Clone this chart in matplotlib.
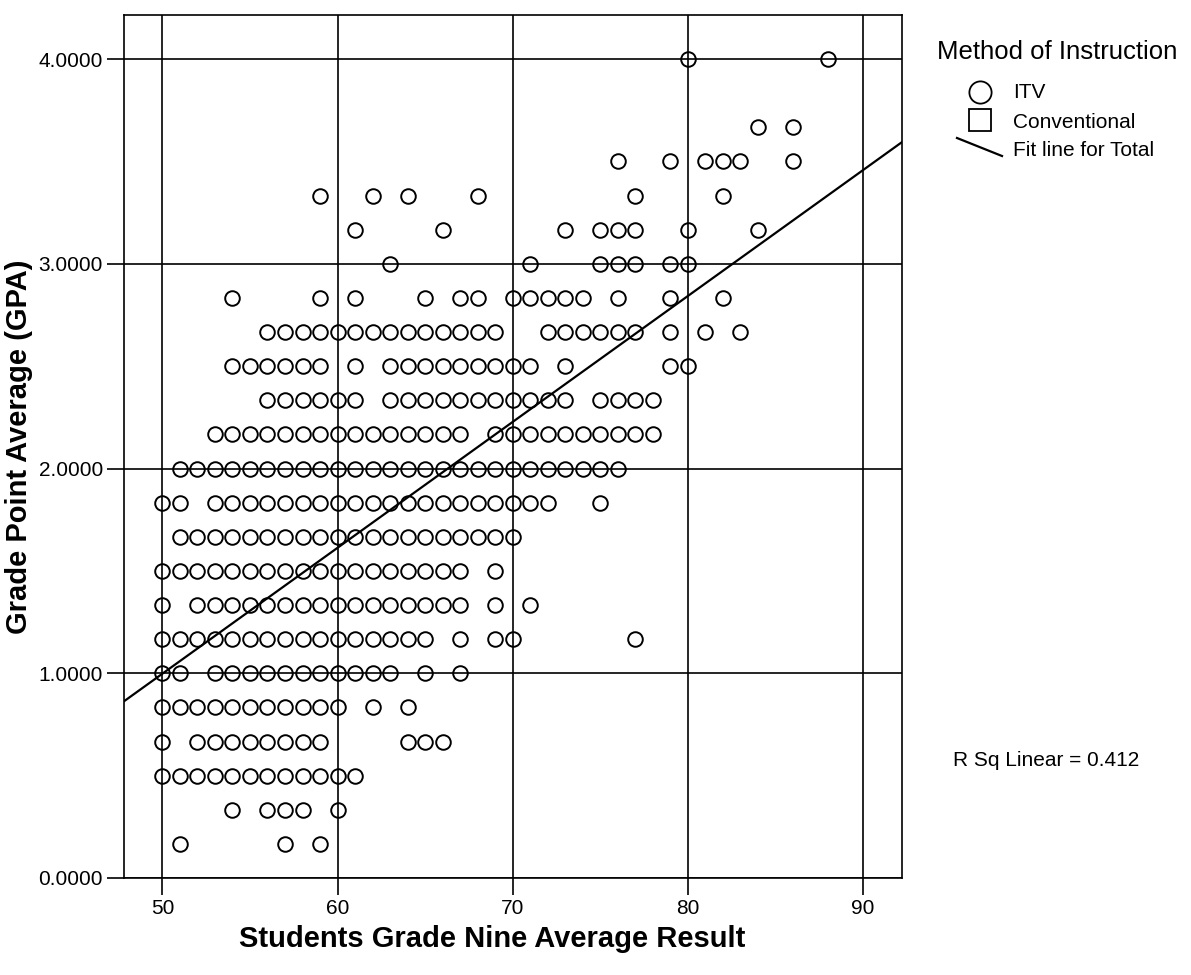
import numpy as np
import matplotlib
matplotlib.use('Agg')
import matplotlib.pyplot as plt
from matplotlib.lines import Line2D

plt.rcParams['font.family'] = ['Liberation Sans', 'DejaVu Sans']

# Grade nine average for each GPA level (one circle per distinct value)
gpa_levels = [4.0, 11 / 3, 3.5, 10 / 3, 19 / 6, 3.0, 17 / 6, 8 / 3, 2.5, 7 / 3,
              13 / 6, 2.0, 11 / 6, 5 / 3, 1.5, 4 / 3, 7 / 6, 1.0, 5 / 6, 2 / 3,
              0.5, 1 / 3, 1 / 6]

grades_400 = [80, 88]
grades_367 = [84, 86]
grades_350 = [76, 79, 81, 82, 83, 86]
grades_333 = [59, 62, 64, 68, 77, 82]
grades_317 = [61, 66, 73, 75, 76, 77, 80, 84]
grades_300 = [63, 71, 75, 76, 77, 79, 80]
grades_283 = [54, 59, 61, 65, 67, 68, 70, 71, 72, 73, 74, 76, 79, 82]
grades_267 = [56, 57, 58, 59, 60, 61, 62, 63, 64, 65, 66, 67, 68, 69,
              72, 73, 74, 75, 76, 77, 79, 81, 83]
grades_250 = [54, 55, 56, 57, 58, 59, 61, 63, 64, 65, 66, 67, 68, 69, 70, 71,
              73, 79, 80]
grades_233 = [56, 57, 58, 59, 60, 61, 63, 64, 65, 66, 67, 68, 69, 70, 71, 72,
              73, 75, 76, 77, 78]
grades_217 = [53, 54, 55, 56, 57, 58, 59, 60, 61, 62, 63, 64, 65, 66, 67,
              69, 70, 71, 72, 73, 74, 75, 76, 77, 78]
grades_200 = [51, 52, 53, 54, 55, 56, 57, 58, 59, 60, 61, 62, 63, 64, 65, 66,
              67, 68, 69, 70, 71, 72, 73, 74, 75, 76]
grades_183 = [50, 51, 53, 54, 55, 56, 57, 58, 59, 60, 61, 62, 63, 64, 65, 66,
              67, 68, 69, 70, 71, 72, 75]
grades_167 = [51, 52, 53, 54, 55, 56, 57, 58, 59, 60, 61, 62, 63, 64, 65, 66,
              67, 68, 69, 70]
grades_150 = [50, 51, 52, 53, 54, 55, 56, 57, 58, 59, 60, 61, 62, 63, 64, 65,
              66, 67, 69]
grades_133 = [50, 52, 53, 54, 55, 56, 57, 58, 59, 60, 61, 62, 63, 64, 65, 66,
              67, 69, 71]
grades_117 = [50, 51, 52, 53, 54, 55, 56, 57, 58, 59, 60, 61, 62, 63, 64, 65,
              67, 69, 70, 77]
grades_100 = [50, 51, 53, 54, 55, 56, 57, 58, 59, 60, 61, 62, 63, 65, 67]
grades_083 = [50, 51, 52, 53, 54, 55, 56, 57, 58, 59, 60, 62, 64]
grades_067 = [50, 52, 53, 54, 55, 56, 57, 58, 59, 64, 65, 66]
grades_050 = [50, 51, 52, 53, 54, 55, 56, 57, 58, 59, 60, 61]
grades_033 = [54, 56, 57, 58, 60]
grades_017 = [51, 57, 59]

grade_rows = [grades_400, grades_367, grades_350, grades_333, grades_317,
              grades_300, grades_283, grades_267, grades_250, grades_233,
              grades_217, grades_200, grades_183, grades_167, grades_150,
              grades_133, grades_117, grades_100, grades_083, grades_067,
              grades_050, grades_033, grades_017]

# linear fit for the whole sample (all cases, incl. repeated values)
fit_intercept = -2.077
fit_slope = 0.0615
r_sq = 0.412

x = np.concatenate([np.array(row, dtype=float) for row in grade_rows])
y = np.concatenate([np.full(len(row), lvl) for lvl, row in zip(gpa_levels, grade_rows)])

fig = plt.figure(figsize=(11.91, 9.75), dpi=100)
ax = fig.add_axes([0.104, 0.0995, 0.653, 0.885])

for v in [50, 60, 70, 80, 90]:
    ax.axvline(v, color='black', linewidth=1.2, zorder=1)
for v in [0, 1, 2, 3, 4]:
    ax.axhline(v, color='black', linewidth=1.2, zorder=1)

ax.plot(x, y, linestyle='none', marker='o', markersize=10.5,
        markerfacecolor='none', markeredgecolor='black', markeredgewidth=1.4,
        zorder=3)

xlim = (47.8, 92.2)
xl = np.array(xlim)
ax.plot(xl, fit_intercept + fit_slope * xl, color='black', linewidth=1.6,
        zorder=2)

ax.set_xlim(*xlim)
ax.set_ylim(0, 4.215)
ax.set_xticks([50, 60, 70, 80, 90])
ax.set_yticks([0, 1, 2, 3, 4])
ax.set_yticklabels([f'{v:.4f}' for v in [0, 1, 2, 3, 4]])
ax.tick_params(direction='out', length=12, width=1.2, labelsize=15, pad=3,
               color='black')
for s in ax.spines.values():
    s.set_linewidth(1.2)

ax.set_xlabel('Students Grade Nine Average Result', fontsize=21,
              fontweight='bold')
ax.set_ylabel('Grade Point Average (GPA)', fontsize=21, fontweight='bold')
ax.xaxis.set_label_coords(0.474, -0.054)
ax.yaxis.set_label_coords(-0.117, 0.5)

# legend drawn in figure coordinates
W, H = 1191, 975
fig.text(937 / W, 1 - 52 / H, 'Method of Instruction', fontsize=18.5,
         va='center', ha='left')
fig.add_artist(Line2D([980 / W], [1 - 92 / H], marker='o', markersize=16,
                      markerfacecolor='none', markeredgecolor='black',
                      markeredgewidth=1.3, linestyle='none'))
fig.text(1013 / W, 1 - 92 / H, 'ITV', fontsize=15, va='center', ha='left')
fig.add_artist(Line2D([980 / W], [1 - 120 / H], marker='s', markersize=16,
                      markerfacecolor='none', markeredgecolor='black',
                      markeredgewidth=1.3, linestyle='none'))
fig.text(1013 / W, 1 - 122 / H, 'Conventional', fontsize=15, va='center',
         ha='left')
fig.add_artist(Line2D([957 / W, 1002 / W], [1 - 138 / H, 1 - 156 / H],
                      color='black', linewidth=1.6))
fig.text(1013 / W, 1 - 150 / H, 'Fit line for Total', fontsize=15,
         va='center', ha='left')

fig.text(953 / W, 1 - 760 / H, f'R Sq Linear = {r_sq}', fontsize=15,
         va='center', ha='left')

fig.savefig('out.png', dpi=100)
